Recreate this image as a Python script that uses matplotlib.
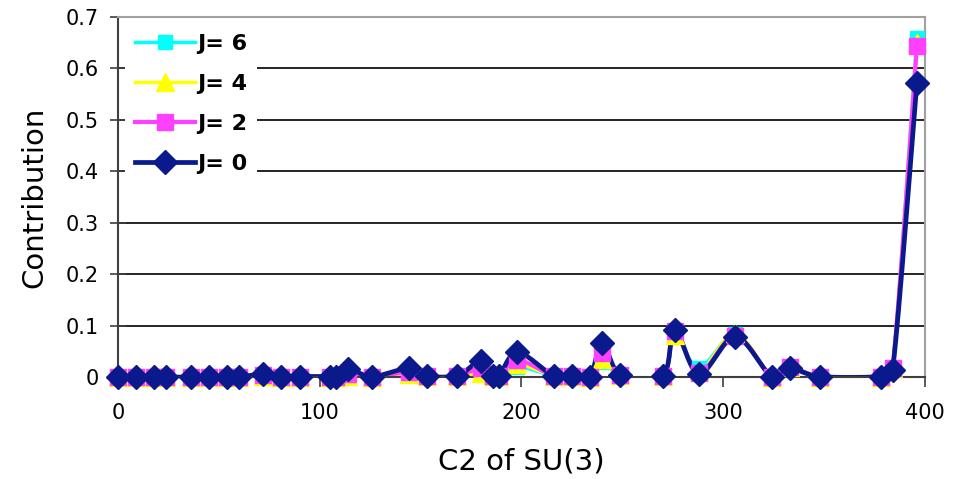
import numpy as np
import matplotlib
matplotlib.use('Agg')
import matplotlib.pyplot as plt

plt.rcParams['font.family'] = ['DejaVu Sans']

# C2 values of the SU(3) irreps
c2 = [0, 9, 18, 24, 36, 45, 54, 60, 72, 81, 90, 105, 108, 114, 126, 144, 153,
      168, 180, 186, 189, 198, 216, 225, 234, 240, 249, 270, 276, 288, 306,
      324, 333, 348, 378, 384, 396]

j0 = [0.0, 0.0, 0.0, 0.0, 0.0, 0.0, 0.0, 0.0, 0.006, 0.001, 0.001, 0.001, 0.001,
      0.016, 0.001, 0.017, 0.002, 0.002, 0.032, 0.002, 0.002, 0.048, 0.002,
      0.002, 0.001, 0.067, 0.004, 0.002, 0.091, 0.006, 0.078, 0.001, 0.017,
      0.001, 0.001, 0.014, 0.572]
j2 = [0.0, 0.0, 0.0, 0.0, 0.0, 0.0, 0.0, 0.0, 0.003, 0.001, 0.001, 0.001, 0.001,
      0.005, 0.001, 0.009, 0.002, 0.002, 0.018, 0.002, 0.002, 0.033, 0.002,
      0.002, 0.001, 0.046, 0.004, 0.002, 0.090, 0.008, 0.080, 0.001, 0.020,
      0.001, 0.001, 0.018, 0.643]
j4 = [0.0, 0.0, 0.0, 0.0, 0.0, 0.0, 0.0, 0.0, 0.002, 0.001, 0.001, 0.001, 0.001,
      0.002, 0.001, 0.006, 0.002, 0.002, 0.008, 0.002, 0.002, 0.025, 0.002,
      0.002, 0.001, 0.035, 0.004, 0.002, 0.082, 0.012, 0.085, 0.001, 0.019,
      0.001, 0.001, 0.018, 0.650]
j6 = [0.0, 0.0, 0.0, 0.0, 0.0, 0.0, 0.0, 0.0, 0.002, 0.001, 0.001, 0.001, 0.001,
      0.002, 0.001, 0.005, 0.002, 0.002, 0.005, 0.002, 0.002, 0.020, 0.002,
      0.002, 0.001, 0.030, 0.004, 0.002, 0.080, 0.018, 0.083, 0.001, 0.018,
      0.001, 0.001, 0.017, 0.660]


def smooth(x, y, n=20):
    # excel style bezier smoothing
    x = np.asarray(x, float)
    y = np.asarray(y, float)
    p = np.column_stack([x, y])
    pts = [p[0]]
    t = np.linspace(0, 1, n + 1)[1:, None]
    for i in range(len(p) - 1):
        pm = p[i - 1] if i > 0 else p[i]
        pn = p[i + 2] if i + 2 < len(p) else p[i + 1]
        c1 = p[i] + (p[i + 1] - pm) / 6
        c2_ = p[i + 1] - (pn - p[i]) / 6
        seg = ((1 - t) ** 3) * p[i] + 3 * ((1 - t) ** 2) * t * c1 \
            + 3 * (1 - t) * t ** 2 * c2_ + t ** 3 * p[i + 1]
        pts.extend(seg)
    pts = np.array(pts)
    return pts[:, 0], pts[:, 1]


fig = plt.figure(figsize=(9.65, 4.79), dpi=100)
ax = fig.add_axes([0.1223, 0.2129, 0.8362, 0.7516])

series = [
    ('J= 6', j6, '#00FFFF', 's', 9.5, 2.5),
    ('J= 4', j4, '#FFFF00', '^', 12.5, 2.5),
    ('J= 2', j2, '#FF40FF', 's', 12, 3),
    ('J= 0', j0, '#0A1A8C', 'D', 12, 3.4),
]
handles = []
for lab, vals, col, mk, ms, lw in series:
    sx, sy = smooth(c2, vals)
    ax.plot(sx, sy, color=col, lw=lw, zorder=2)
    ax.plot(c2, vals, ls='none', marker=mk, ms=ms, color=col, zorder=3,
            clip_on=False)
    h, = ax.plot([], [], color=col, lw=lw, marker=mk, ms=ms, label=lab)
    handles.append(h)

ax.set_xlim(0, 400)
ax.set_ylim(0, 0.7)
ax.set_xticks([0, 100, 200, 300, 400])
ax.set_yticks(np.arange(0, 0.71, 0.1))
ax.set_yticklabels(['0', '0.1', '0.2', '0.3', '0.4', '0.5', '0.6', '0.7'])
ax.yaxis.grid(True, color='black', lw=1.2)
ax.set_axisbelow(True)

for s in ['top', 'right']:
    ax.spines[s].set_color('#A0A0A0')
    ax.spines[s].set_linewidth(1.5)
for s in ['left', 'bottom']:
    ax.spines[s].set_color('#404040')
    ax.spines[s].set_linewidth(1.5)

ax.tick_params(axis='y', direction='inout', length=12, width=1.2,
               color='#404040', labelsize=15, pad=8)
ax.tick_params(axis='x', direction='out', length=7, width=1.2,
               color='#404040', labelsize=15, pad=12)

ax.set_xlabel('C2 of SU(3)', fontsize=21, labelpad=17)
ax.set_ylabel('Contribution', fontsize=21, labelpad=12)

leg = ax.legend(handles=handles, loc='upper left',
                prop={'weight': 'bold', 'size': 16}, frameon=True,
                fancybox=False, handlelength=2.7, labelspacing=0.9,
                borderaxespad=0.3, borderpad=0.45, handletextpad=0.1)
leg.get_frame().set_edgecolor('none')
leg.get_frame().set_facecolor('white')
leg.get_frame().set_alpha(1)

fig.savefig('out.png', dpi=100)
